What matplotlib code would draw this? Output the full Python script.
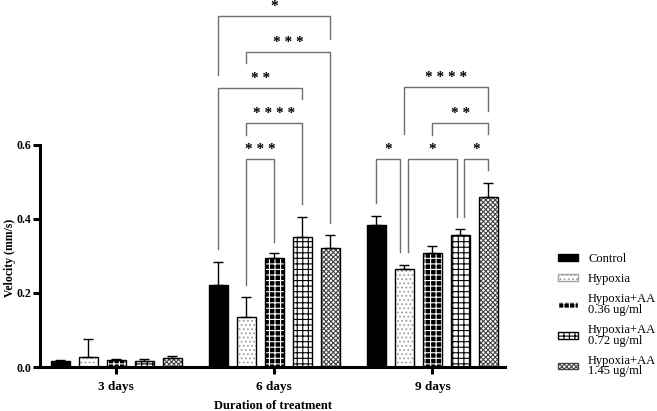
import numpy as np
import matplotlib
matplotlib.use('Agg')
import matplotlib.pyplot as plt
from matplotlib.patches import Patch

plt.rcParams['font.family'] = ['Liberation Serif', 'DejaVu Serif']
plt.rcParams['hatch.linewidth'] = 0.8

days = ['3 days', '6 days', '9 days']
groups = ['Control', 'Hypoxia', 'Hypoxia+AA\n0.36 ug/ml',
          'Hypoxia+AA\n0.72 ug/ml', 'Hypoxia+AA\n1.45 ug/ml']

# mean velocity (mm/s) per group, one value per day
means = [
    [0.015, 0.222, 0.384],   # Control
    [0.027, 0.136, 0.264],   # Hypoxia
    [0.019, 0.294, 0.309],   # AA 0.36
    [0.017, 0.352, 0.358],   # AA 0.72
    [0.025, 0.321, 0.460],   # AA 1.45
]
errs = [
    [0.003, 0.063, 0.024],
    [0.050, 0.052, 0.012],
    [0.003, 0.013, 0.019],
    [0.005, 0.054, 0.014],
    [0.006, 0.036, 0.038],
]

# significance brackets: (day, left group, right group, top, left foot, right foot, label)
brackets = [
    (1, 0, 4, 0.949, 0.789, 0.886, '*'),
    (1, 1, 4, 0.851, 0.822, 0.389, '***'),
    (1, 0, 3, 0.754, 0.319, 0.724, '**'),
    (1, 1, 3, 0.659, 0.627, 0.441, '****'),
    (1, 1, 2, 0.562, 0.222, 0.339, '***'),
    (2, 1, 4, 0.757, 0.630, 0.692, '****'),
    (2, 2, 4, 0.659, 0.627, 0.630, '**'),
    (2, 0, 1, 0.562, 0.443, 0.311, '*'),
    (2, 1, 3, 0.562, 0.311, 0.405, '*'),
    (2, 3, 4, 0.562, 0.405, 0.532, '*'),
]

face = ['black', 'white', 'black', 'white', 'white']
hatch_col = ['black', '#a0a0a0', 'white', 'black', '#444444']
hatches = [None, '....', '+++', '+++', 'xxxxxxx']

fig = plt.figure(figsize=(6.57, 4.11), dpi=100)
ax = fig.add_axes([0.061, 0.107, 0.708, 0.888])

x = np.arange(len(days))
step = 0.177
width = 0.12

for i in range(len(groups)):
    pos = x + (i - 2) * step
    ax.bar(pos, means[i], width, color=face[i], edgecolor=hatch_col[i],
           hatch=hatches[i], linewidth=0, zorder=2)
    ax.bar(pos, means[i], width, fill=False, edgecolor='black',
           linewidth=1.0, zorder=3)
    ax.errorbar(pos, means[i], yerr=[np.zeros(3), errs[i]], fmt='none',
                ecolor='black', elinewidth=1.0, capsize=3.5, capthick=1.0,
                zorder=3)

for d, a, b, top, fa, fb, lab in brackets:
    xa = x[d] + (a - 2) * step
    xb = x[d] + (b - 2) * step
    # the three single-star brackets on day 9 share bars, so nudge them apart
    if d == 2 and lab == '*':
        if a in (1, 3):
            xa += 0.025
        if b in (1, 3):
            xb -= 0.025
    ax.plot([xa, xa, xb, xb], [fa, top, top, fb], color='#707070',
            linewidth=1.0, clip_on=False, zorder=1)
    ax.text((xa + xb) / 2, top + 0.008, ' '.join(lab), ha='center',
            va='bottom', fontsize=11, fontweight='bold', color='black')

ax.set_xlim(-0.48, 2.46)
ax.set_ylim(0, 0.986)
ax.set_yticks([0.0, 0.2, 0.4, 0.6])
ax.set_yticklabels(['0.0', '0.2', '0.4', '0.6'], fontsize=8.5, fontweight='bold')
ax.set_xticks(x)
ax.set_xticklabels(days, fontsize=9.5, fontweight='bold')
ax.spines['left'].set_bounds(0, 0.6)
ax.spines['top'].set_visible(False)
ax.spines['right'].set_visible(False)
ax.spines['left'].set_linewidth(2.2)
ax.spines['bottom'].set_linewidth(2.2)
ax.tick_params(axis='both', width=2.2, length=5, direction='out')
ax.tick_params(axis='y', pad=1.5)
ax.tick_params(axis='x', pad=5)

ax.set_ylabel('Velocity (mm/s)', fontsize=8.5, fontweight='bold')
ax.yaxis.set_label_coords(-0.052, 0.3)
ax.set_xlabel('Duration of treatment', fontsize=9, fontweight='bold',
              labelpad=5)

handles = [Patch(facecolor=face[i], edgecolor=hatch_col[i], hatch=hatches[i])
           for i in range(len(groups))]
leg = fig.legend(handles, groups, loc='upper left',
                 bbox_to_anchor=(0.84, 0.40), frameon=False, fontsize=9,
                 handlelength=1.6, handleheight=0.45, labelspacing=0.65,
                 handletextpad=0.8, borderpad=0)
for t in leg.get_texts():
    t.set_linespacing(0.85)

plt.savefig('out.png', dpi=100)
